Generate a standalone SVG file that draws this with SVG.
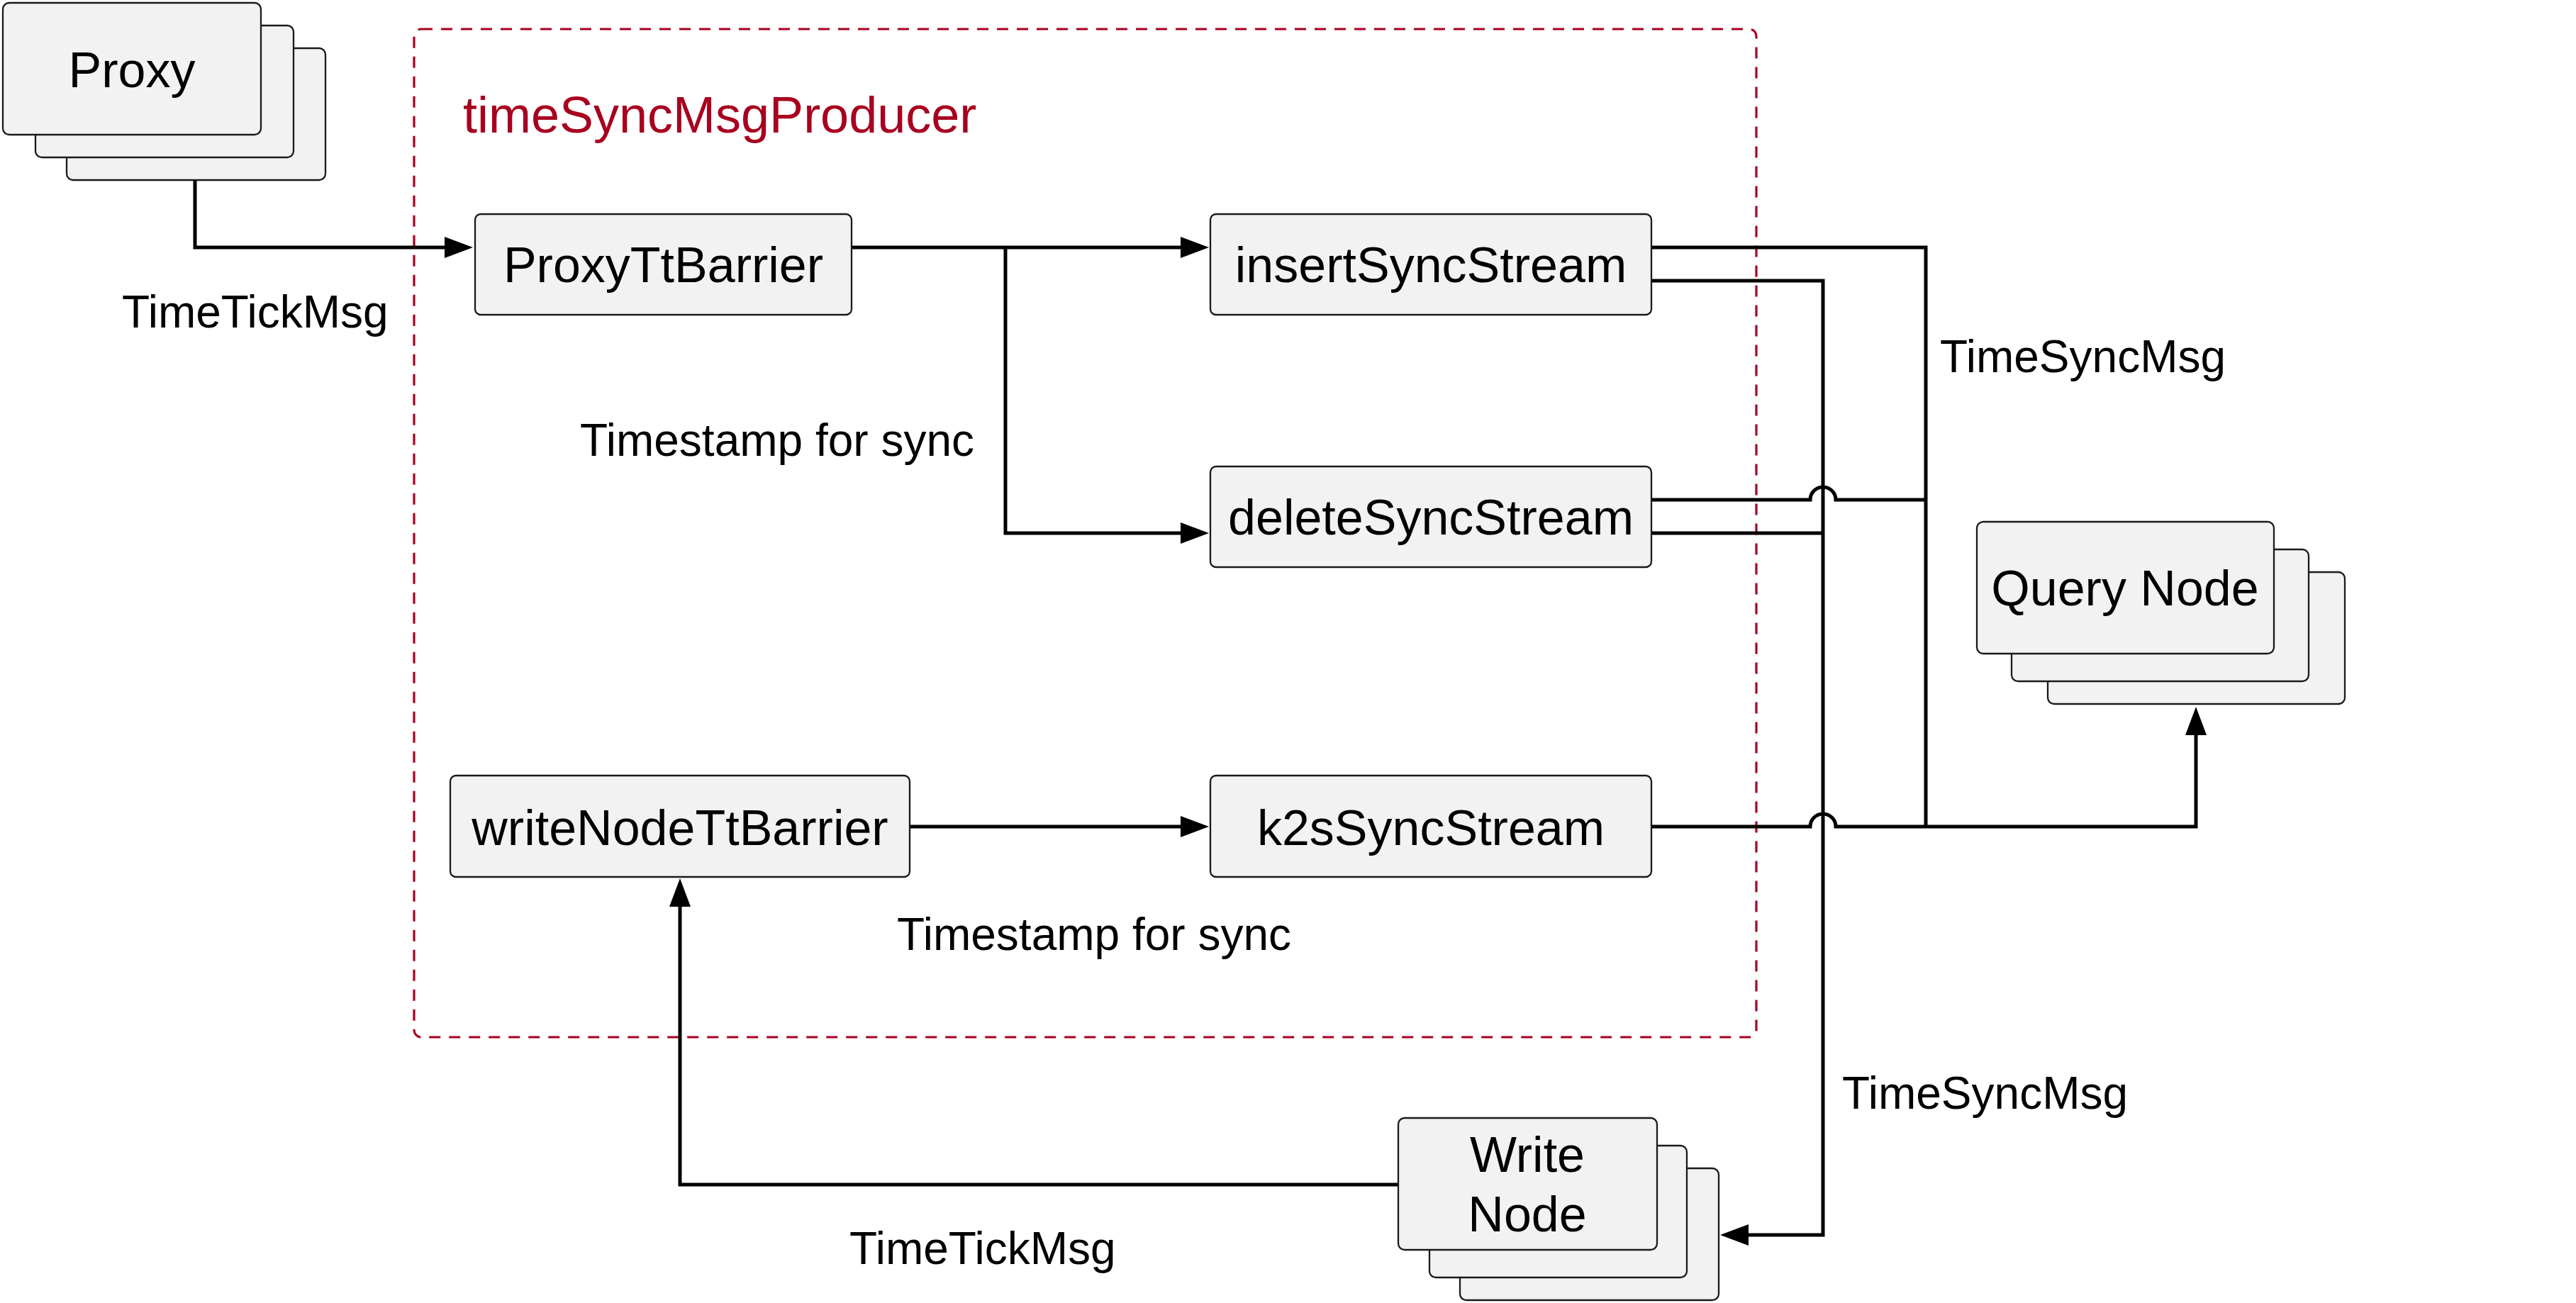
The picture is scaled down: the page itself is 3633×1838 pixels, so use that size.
<svg xmlns="http://www.w3.org/2000/svg" width="3633" height="1838" viewBox="0 0 3633 1838">
  <style>
    .box { fill: #f2f2f2; stroke: #1a1a1a; stroke-width: 2.3; }
    .node-text { font-family: "Liberation Sans", Arial, Helvetica, sans-serif; font-size: 70px; fill: #000; text-anchor: middle; }
    .label { font-family: "Liberation Sans", Arial, Helvetica, sans-serif; font-size: 64px; fill: #000; }
    .title { font-family: "Liberation Sans", Arial, Helvetica, sans-serif; font-size: 72px; fill: #a8001f; }
    .wire { fill: none; stroke: #000; stroke-width: 5; stroke-linejoin: miter; }
    .arrow { marker-end: url(#head); }
    .frame { fill: none; stroke: #a8001f; stroke-width: 3.2; stroke-dasharray: 16 12; }
  </style>
  <defs>
    <marker id="head" markerUnits="userSpaceOnUse" markerWidth="40" markerHeight="30" refX="0" refY="15" orient="auto" overflow="visible">
      <path d="M0,0 L40,15 L0,30 Z" fill="#000"/>
    </marker>
  </defs>

  <rect width="3633" height="1838" fill="#fff"/>

  <!-- timeSyncMsgProducer container -->
  <g id="timeSyncMsgProducer">
    <rect class="frame" x="584" y="41" width="1893" height="1422" rx="10" ry="10"/>
    <text class="title" x="653" y="187">timeSyncMsgProducer</text>
  </g>

  <!-- connectors -->
  <g id="connectors">
    <path class="wire arrow" d="M275 254 V349 H627"/>
    <path class="wire arrow" d="M1201 349 H1665"/>
    <path class="wire arrow" d="M1418 349 V752 H1665"/>
    <path class="wire" d="M2329 349 H2716 V1166"/>
    <path class="wire arrow" d="M2329 396 H2571 V1742 H2466"/>
    <path class="wire" d="M2329 705 H2553 A18 18 0 0 1 2589 705 H2716"/>
    <path class="wire" d="M2329 752 H2571"/>
    <path class="wire arrow" d="M1283 1166 H1665"/>
    <path class="wire arrow" d="M2329 1166 H2553 A18 18 0 0 1 2589 1166 H3097 V1037"/>
    <path class="wire arrow" d="M1972 1671 H959 V1279"/>
  </g>

  <!-- edge labels -->
  <g id="labels">
    <text class="label" x="172" y="462">TimeTickMsg</text>
    <text class="label" x="818" y="643">Timestamp for sync</text>
    <text class="label" x="1265" y="1340">Timestamp for sync</text>
    <text class="label" x="2736" y="525">TimeSyncMsg</text>
    <text class="label" x="2598" y="1564">TimeSyncMsg</text>
    <text class="label" x="1198" y="1783">TimeTickMsg</text>
  </g>

  <!-- nodes -->
  <g id="proxy">
    <rect class="box" x="94" y="68" width="365" height="186" rx="9"/>
    <rect class="box" x="50" y="36" width="364" height="186" rx="9"/>
    <rect class="box" x="4" y="4" width="364" height="186" rx="9"/>
    <text class="node-text" x="186" y="123">Proxy</text>
  </g>

  <g id="proxyTtBarrier">
    <rect class="box" x="670" y="302" width="531" height="142" rx="8"/>
    <text class="node-text" x="935.5" y="398">ProxyTtBarrier</text>
  </g>

  <g id="insertSyncStream">
    <rect class="box" x="1707" y="302" width="622" height="142" rx="8"/>
    <text class="node-text" x="2018" y="398">insertSyncStream</text>
  </g>

  <g id="deleteSyncStream">
    <rect class="box" x="1707" y="658" width="622" height="142" rx="8"/>
    <text class="node-text" x="2018" y="754">deleteSyncStream</text>
  </g>

  <g id="writeNodeTtBarrier">
    <rect class="box" x="635" y="1094" width="648" height="143" rx="8"/>
    <text class="node-text" x="959" y="1192">writeNodeTtBarrier</text>
  </g>

  <g id="k2sSyncStream">
    <rect class="box" x="1707" y="1094" width="622" height="143" rx="8"/>
    <text class="node-text" x="2018" y="1192">k2sSyncStream</text>
  </g>

  <g id="queryNode">
    <rect class="box" x="2888" y="807" width="419" height="186" rx="9"/>
    <rect class="box" x="2837" y="775" width="419" height="186" rx="9"/>
    <rect class="box" x="2788" y="736" width="419" height="186" rx="9"/>
    <text class="node-text" x="2997" y="854">Query Node</text>
  </g>

  <g id="writeNode">
    <rect class="box" x="2059" y="1648" width="365" height="186" rx="9"/>
    <rect class="box" x="2016" y="1616" width="363" height="186" rx="9"/>
    <rect class="box" x="1972" y="1577" width="365" height="186" rx="9"/>
    <text class="node-text" x="2154" y="1653">Write</text>
    <text class="node-text" x="2154" y="1737">Node</text>
  </g>
</svg>
